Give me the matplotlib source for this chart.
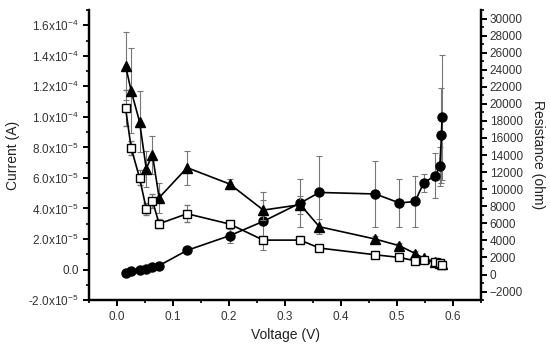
import matplotlib
matplotlib.use("Agg")
import matplotlib.pyplot as plt
from matplotlib.ticker import MultipleLocator, FixedLocator

plt.rcParams['font.family'] = ['Liberation Sans', 'DejaVu Sans']

# data
voltage = [0.015, 0.025, 0.040, 0.052, 0.063, 0.075, 0.125, 0.201, 0.261, 0.327,
           0.361, 0.461, 0.504, 0.532, 0.547, 0.568, 0.576, 0.579, 0.580]
current = [-2.2e-6, -1.1e-6, 0.0, 0.5e-6, 1.5e-6, 2.6e-6, 1.26e-5, 2.22e-5, 3.16e-5, 4.36e-5,
           5.05e-5, 4.95e-5, 4.36e-5, 4.46e-5, 5.67e-5, 6.16e-5, 6.75e-5, 8.78e-5, 9.98e-5]
current_err = [0, 0, 0, 0, 0, 0, 0, 4.6e-6, 1.9e-5, 1.6e-5,
               2.4e-5, 2.15e-5, 1.6e-5, 1.7e-5, 5.8e-6, 1.5e-5, 1.27e-5, 3.1e-5, 4.1e-5]

v_res = [0.015, 0.025, 0.040, 0.052, 0.063, 0.075, 0.125, 0.201, 0.261, 0.327,
         0.361, 0.461, 0.504, 0.532, 0.547, 0.568, 0.576, 0.580]
res_tri = [24480, 21550, 17910, 12400, 14040, 9000, 12520, 10600, 7550, 8180,
           5600, 4150, 3370, 2460, 1900, 1500, 1350, 1200]
res_tri_err = [3990, 5000, 3560, 2100, 2230, 1760, 2000, 590, 1200, 1060,
               900, 400, 300, 300, 200, 200, 200, 200]
res_sq = [19550, 14860, 11340, 7700, 8650, 5950, 7120, 5910, 4030, 4030,
          3100, 2310, 2000, 1600, 1690, 1410, 1290, 1140]
res_sq_err = [2100, 800, 900, 700, 800, 500, 980, 300, 300, 300,
              300, 200, 300, 300, 300, 300, 300, 300]

left_ticks = [-2e-5, 0, 2e-5, 4e-5, 6e-5, 8e-5, 1e-4, 1.2e-4, 1.4e-4, 1.6e-4]
left_labels = [r'-2.0x10$^{\mathregular{-5}}$', '0.0',
               r'2.0x10$^{\mathregular{-5}}$', r'4.0x10$^{\mathregular{-5}}$',
               r'6.0x10$^{\mathregular{-5}}$', r'8.0x10$^{\mathregular{-5}}$',
               r'1.0x10$^{\mathregular{-4}}$', r'1.2x10$^{\mathregular{-4}}$',
               r'1.4x10$^{\mathregular{-4}}$', r'1.6x10$^{\mathregular{-4}}$']

fig = plt.figure(figsize=(5.5, 3.56), dpi=100)
ax = fig.add_axes([0.162, 0.157, 0.713, 0.815])
ax2 = ax.twinx()

err_kw = dict(ecolor='#777777', elinewidth=0.8, capsize=2.5, capthick=0.8)

ax.errorbar(voltage, current, yerr=current_err, color='black', lw=1.2,
            marker='o', ms=6.5, mfc='black', mec='black', **err_kw)
ax2.errorbar(v_res, res_tri, yerr=res_tri_err, color='black', lw=1.2,
             marker='^', ms=7, mfc='black', mec='black', **err_kw)
ax2.errorbar(v_res, res_sq, yerr=res_sq_err, color='black', lw=1.2,
             marker='s', ms=6, mfc='white', mec='black', mew=1.0, **err_kw)

ax.set_xlim(-0.05, 0.65)
ax.set_ylim(-2e-5, 1.7e-4)

ax.xaxis.set_major_locator(MultipleLocator(0.1))
ax.xaxis.set_minor_locator(MultipleLocator(0.05))
ax.yaxis.set_major_locator(FixedLocator(left_ticks))
ax.yaxis.set_minor_locator(MultipleLocator(1e-5))
ax.set_yticklabels(left_labels)
ax2.yaxis.set_major_locator(MultipleLocator(2000))
ax2.yaxis.set_minor_locator(MultipleLocator(1000))
ax2.set_ylim(-3000, 31000)

for a in (ax, ax2):
    a.spines['top'].set_visible(False)
    for s in ('left', 'right', 'bottom'):
        a.spines[s].set_linewidth(1.6)
    a.tick_params(which='major', direction='out', length=4, width=1.4,
                  labelsize=8.5, labelcolor='#333333')
    a.tick_params(which='minor', direction='out', length=2.5, width=1.2)
ax2.tick_params(axis='y', pad=2)

ax.set_xlabel('Voltage (V)', fontsize=10, color='#222222')
ax.set_ylabel('Current (A)', fontsize=10, color='#222222', labelpad=6)
ax2.set_ylabel('Resistance (ohm)', fontsize=10, color='#222222', rotation=270, labelpad=16)

fig.savefig('out.png', dpi=100)
